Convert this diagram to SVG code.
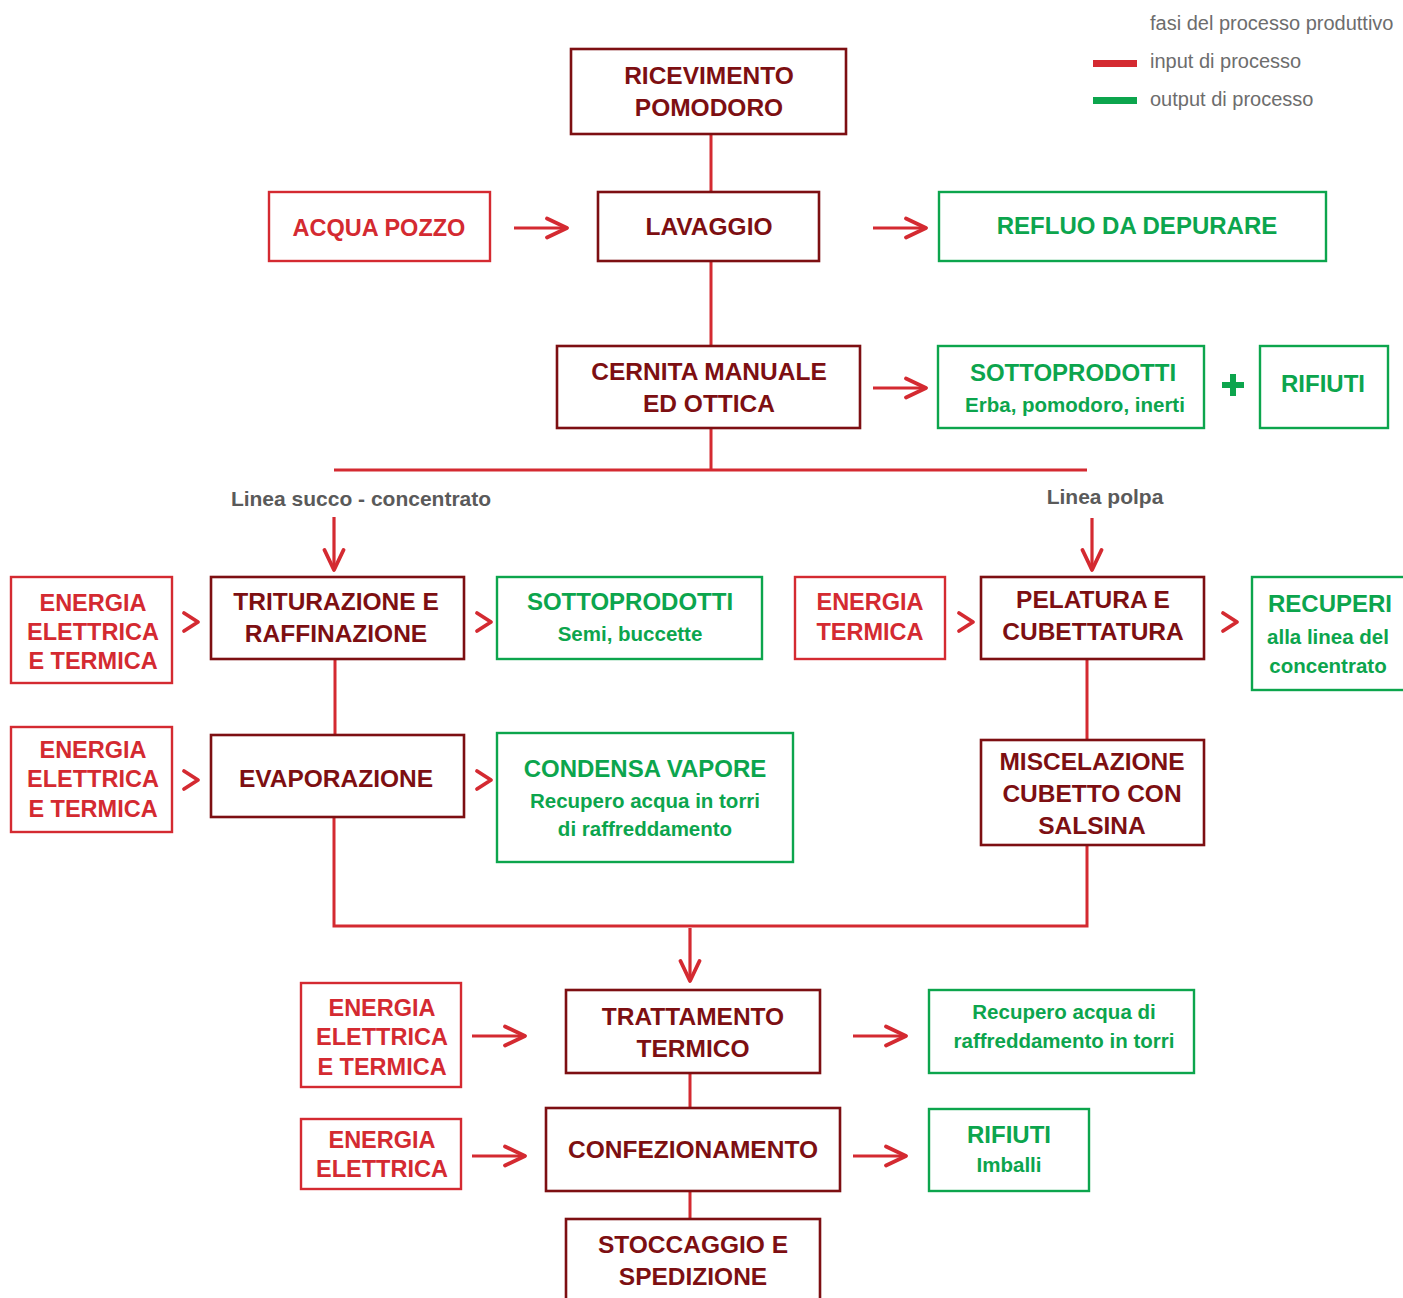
<svg xmlns="http://www.w3.org/2000/svg" width="1403" height="1298" viewBox="0 0 1403 1298">
<defs>
<style>
.bd{fill:#fff;stroke:#7d0f12;stroke-width:2.6}
.br{fill:#fff;stroke:#d42a31;stroke-width:2.4}
.bg{fill:#fff;stroke:#0ca54d;stroke-width:2.4}
text{font-family:"Liberation Sans",Arial,sans-serif;font-weight:bold;text-anchor:middle}
.td{fill:#7d0f12;font-size:24.5px}
.tr{fill:#d42a31;font-size:23.5px}
.tg{fill:#0ca54d;font-size:24px}
.ts{fill:#0ca54d;font-size:20.5px}
.tl{fill:#5a5a5a;font-size:21px}
.lg{fill:#6d6d6d;font-size:20px;font-weight:normal;text-anchor:start}
.ln{fill:none;stroke:#d42a31;stroke-width:3}
.ar{fill:none;stroke:#d42a31;stroke-width:3.2;marker-end:url(#ah)}
.ch{fill:none;stroke:#d42a31;stroke-width:3.8;stroke-linecap:round;stroke-linejoin:round}
</style>
<marker id="ah" markerUnits="userSpaceOnUse" viewBox="-24 -12 27 24" refX="0" refY="0" markerWidth="27" markerHeight="24" orient="auto">
<path d="M-20,-9.5 L0,0 L-20,9.5" fill="none" stroke="#d42a31" stroke-width="3.8" stroke-linecap="round" stroke-linejoin="round"/>
</marker>
</defs>
<rect width="1403" height="1298" fill="#fff"/>

<g id="legend">
<text class="lg" x="1150" y="30">fasi del processo produttivo</text>
<rect x="1093" y="60" width="44" height="7" fill="#d42a31"/>
<text class="lg" x="1150" y="68">input di processo</text>
<rect x="1093" y="97" width="44" height="7" fill="#0ca54d"/>
<text class="lg" x="1150" y="106">output di processo</text>
</g>

<g id="connectors">
<path class="ln" d="M711,134V192M711,261V346M711,428V470M334,470H1087M335,659V735M1087,659V740M334,817V926H1087V845M690,1073V1108M690,1191V1219"/>
<path class="ar" d="M514,228H567"/>
<path class="ar" d="M873,228H926"/>
<path class="ar" d="M873,388H926"/>
<path class="ar" d="M472,1036H525"/>
<path class="ar" d="M853,1036H906"/>
<path class="ar" d="M472,1156H525"/>
<path class="ar" d="M853,1156H906"/>
<path class="ar" d="M334,517V570"/>
<path class="ar" d="M1092,518V570"/>
<path class="ar" d="M690,928V981"/>
<polyline class="ch" points="184,613 198,622 184,631"/>
<polyline class="ch" points="477,613 491,622 477,631"/>
<polyline class="ch" points="959,613 973,622 959,631"/>
<polyline class="ch" points="1223,613 1237,622 1223,631"/>
<polyline class="ch" points="184,771 198,780 184,789"/>
<polyline class="ch" points="477,771 491,780 477,789"/>
<path d="M1233,374V396M1222,385H1244" stroke="#0ca54d" stroke-width="6" fill="none"/>
</g>

<g id="ricevimento"><rect class="bd" x="571" y="49" width="275" height="85"/>
<text class="td" x="709" y="84">RICEVIMENTO</text><text class="td" x="709" y="116">POMODORO</text></g>

<g id="acqua"><rect class="br" x="269" y="192" width="221" height="69"/>
<text class="tr" x="379" y="236">ACQUA POZZO</text></g>

<g id="lavaggio"><rect class="bd" x="598" y="192" width="221" height="69"/>
<text class="td" x="709" y="235">LAVAGGIO</text></g>

<g id="refluo"><rect class="bg" x="939" y="192" width="387" height="69"/>
<text class="tg" x="1137" y="234">REFLUO DA DEPURARE</text></g>

<g id="cernita"><rect class="bd" x="557" y="346" width="303" height="82"/>
<text class="td" x="709" y="380">CERNITA MANUALE</text><text class="td" x="709" y="412">ED OTTICA</text></g>

<g id="sottoprodotti1"><rect class="bg" x="938" y="346" width="266" height="82"/>
<text class="tg" x="1073" y="381">SOTTOPRODOTTI</text><text class="ts" x="1075" y="412">Erba, pomodoro, inerti</text></g>

<g id="rifiuti1"><rect class="bg" x="1260" y="346" width="128" height="82"/>
<text class="tg" x="1323" y="392">RIFIUTI</text></g>

<g id="label-succo"><text class="tl" x="361" y="506">Linea succo - concentrato</text></g>
<g id="label-polpa"><text class="tl" x="1105" y="504">Linea polpa</text></g>

<g id="energia1"><rect class="br" x="11" y="577" width="161" height="106"/>
<text class="tr" x="93" y="611">ENERGIA</text><text class="tr" x="93" y="640">ELETTRICA</text><text class="tr" x="93" y="669">E TERMICA</text></g>

<g id="triturazione"><rect class="bd" x="211" y="577" width="253" height="82"/>
<text class="td" x="336" y="610">TRITURAZIONE E</text><text class="td" x="336" y="642">RAFFINAZIONE</text></g>

<g id="sottoprodotti2"><rect class="bg" x="497" y="577" width="265" height="82"/>
<text class="tg" x="630" y="610">SOTTOPRODOTTI</text><text class="ts" x="630" y="641">Semi, buccette</text></g>

<g id="energia-termica"><rect class="br" x="795" y="577" width="150" height="82"/>
<text class="tr" x="870" y="610">ENERGIA</text><text class="tr" x="870" y="640">TERMICA</text></g>

<g id="pelatura"><rect class="bd" x="981" y="577" width="223" height="82"/>
<text class="td" x="1093" y="608">PELATURA E</text><text class="td" x="1093" y="640">CUBETTATURA</text></g>

<g id="recuperi"><rect class="bg" x="1252" y="577" width="170" height="113"/>
<text class="tg" x="1330" y="612">RECUPERI</text><text class="ts" x="1328" y="644">alla linea del</text><text class="ts" x="1328" y="673">concentrato</text></g>

<g id="energia2"><rect class="br" x="11" y="727" width="161" height="105"/>
<text class="tr" x="93" y="758">ENERGIA</text><text class="tr" x="93" y="787">ELETTRICA</text><text class="tr" x="93" y="817">E TERMICA</text></g>

<g id="evaporazione"><rect class="bd" x="211" y="735" width="253" height="82"/>
<text class="td" x="336" y="787">EVAPORAZIONE</text></g>

<g id="condensa"><rect class="bg" x="497" y="733" width="296" height="129"/>
<text class="tg" x="645" y="777">CONDENSA VAPORE</text><text class="ts" x="645" y="808">Recupero acqua in torri</text><text class="ts" x="645" y="836">di raffreddamento</text></g>

<g id="miscelazione"><rect class="bd" x="981" y="740" width="223" height="105"/>
<text class="td" x="1092" y="770">MISCELAZIONE</text><text class="td" x="1092" y="802">CUBETTO CON</text><text class="td" x="1092" y="834">SALSINA</text></g>

<g id="energia3"><rect class="br" x="301" y="983" width="160" height="104"/>
<text class="tr" x="382" y="1016">ENERGIA</text><text class="tr" x="382" y="1045">ELETTRICA</text><text class="tr" x="382" y="1075">E TERMICA</text></g>

<g id="trattamento"><rect class="bd" x="566" y="990" width="254" height="83"/>
<text class="td" x="693" y="1025">TRATTAMENTO</text><text class="td" x="693" y="1057">TERMICO</text></g>

<g id="recupero-acqua"><rect class="bg" x="929" y="990" width="265" height="83"/>
<text class="ts" x="1064" y="1019">Recupero acqua di</text><text class="ts" x="1064" y="1048">raffreddamento in torri</text></g>

<g id="energia4"><rect class="br" x="301" y="1119" width="160" height="70"/>
<text class="tr" x="382" y="1148">ENERGIA</text><text class="tr" x="382" y="1177">ELETTRICA</text></g>

<g id="confezionamento"><rect class="bd" x="546" y="1108" width="294" height="83"/>
<text class="td" x="693" y="1158">CONFEZIONAMENTO</text></g>

<g id="rifiuti2"><rect class="bg" x="929" y="1109" width="160" height="82"/>
<text class="tg" x="1009" y="1143">RIFIUTI</text><text class="ts" x="1009" y="1172">Imballi</text></g>

<g id="stoccaggio"><rect class="bd" x="566" y="1219" width="254" height="95"/>
<text class="td" x="693" y="1253">STOCCAGGIO E</text><text class="td" x="693" y="1285">SPEDIZIONE</text></g>
</svg>
